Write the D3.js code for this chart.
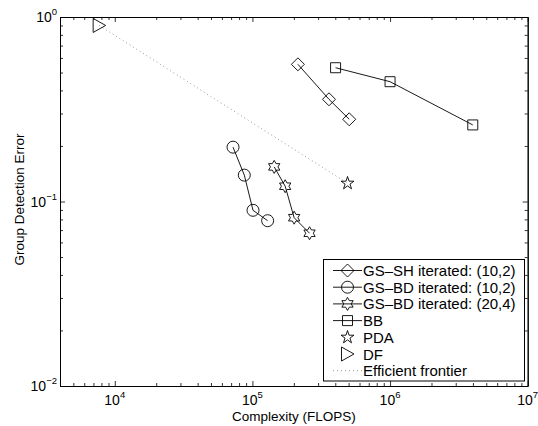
<!DOCTYPE html>
<html>
<head>
<meta charset="utf-8">
<script src="https://cdn.jsdelivr.net/npm/d3@7"></script>
<style>
  html, body { margin: 0; padding: 0; background: #fff; }
  svg { display: block; font-family: "Liberation Sans", Arial, sans-serif; }
</style>
</head>
<body>
<div id="chart"></div>
<script>
// series (complexity in FLOPS, group detection error)
const gsshX = [2.14e5, 3.6e5, 5.05e5];
const gsshY = [0.554, 0.358, 0.279];
const gsbd10X = [7.23e4, 8.73e4, 1.01e5, 1.29e5];
const gsbd10Y = [0.197, 0.139, 0.0896, 0.0787];
const gsbd20X = [1.44e5, 1.73e5, 2.01e5, 2.6e5];
const gsbd20Y = [0.154, 0.121, 0.0817, 0.0673];
const bbX = [4.02e5, 1e6, 3.99e6];
const bbY = [0.531, 0.446, 0.26];
const pdaX = [4.91e5];
const pdaY = [0.1255];
const dfX = [7.7e3];
const dfY = [0.90];
const frontierX = [7.7e3, 4.91e5];
const frontierY = [0.90, 0.1255];

const xTickExp = [4, 5, 6, 7];
const yTickExp = [-2, -1, 0];
const legendLabels = ['GS\u2013SH iterated: (10,2)', 'GS\u2013BD iterated: (10,2)', 'GS\u2013BD iterated: (20,4)', 'BB', 'PDA', 'DF', 'Efficient frontier'];

const width = 538, height = 426;
const margin = { top: 17, right: 10.3, bottom: 40, left: 60 };

const svg = d3.select('#chart').append('svg').attr('width', width).attr('height', height);

const x = d3.scaleLog().domain([4000, 1e7]).range([margin.left, width - margin.right]);
const y = d3.scaleLog().domain([0.01, 1]).range([height - margin.bottom, margin.top]);

// major + minor tick values
const xMinor = [], yMinor = [];
for (let e = 3; e < 7; e++) for (let m = 2; m <= 9; m++) { const v = m * Math.pow(10, e); if (v > 4000 - 1 && v < 1e7) xMinor.push(v); }
for (let e = -2; e < 0; e++) for (let m = 2; m <= 9; m++) yMinor.push(m * Math.pow(10, e));
const xMajor = xTickExp.map(e => Math.pow(10, e));
const yMajor = yTickExp.map(e => Math.pow(10, e));

const x0 = margin.left, x1 = width - margin.right, y0 = height - margin.bottom, y1 = margin.top;

function axisG(axis, tx, ty) {
  const g = svg.append('g').attr('transform', `translate(${tx},${ty})`).call(axis);
  g.selectAll('text').remove();
  g.select('.domain').attr('stroke', '#000').attr('stroke-width', 1);
  g.selectAll('.tick line').attr('stroke', '#000').attr('stroke-width', 0.8);
  return g;
}
// major ticks
axisG(d3.axisBottom(x).tickValues(xMajor).tickSize(-5).tickSizeOuter(0), 0, y0);
axisG(d3.axisTop(x).tickValues(xMajor).tickSize(-5).tickSizeOuter(0), 0, y1);
axisG(d3.axisLeft(y).tickValues(yMajor).tickSize(-5).tickSizeOuter(0), x0, 0);
axisG(d3.axisRight(y).tickValues(yMajor).tickSize(-5).tickSizeOuter(0), x1, 0);
// minor ticks
axisG(d3.axisBottom(x).tickValues(xMinor).tickSize(-3).tickSizeOuter(0), 0, y0);
axisG(d3.axisTop(x).tickValues(xMinor).tickSize(-3).tickSizeOuter(0), 0, y1);
axisG(d3.axisLeft(y).tickValues(yMinor).tickSize(-3).tickSizeOuter(0), x0, 0);
axisG(d3.axisRight(y).tickValues(yMinor).tickSize(-3).tickSizeOuter(0), x1, 0);

// tick labels with superscripts
const fs = 13.5;
xTickExp.forEach(e => {
  const t = svg.append('text').attr('x', x(Math.pow(10, e))).attr('y', y0 + 19)
    .attr('text-anchor', 'middle').attr('font-size', 14);
  t.append('tspan').text('10');
  t.append('tspan').attr('dy', -7).attr('font-size', 9.5).text(e);
});
yTickExp.forEach(e => {
  const t = svg.append('text').attr('x', x0 - 3).attr('y', y(Math.pow(10, e)) + 5)
    .attr('text-anchor', 'end').attr('font-size', 14);
  t.append('tspan').text('10');
  t.append('tspan').attr('dy', -7).attr('font-size', 9.5).text(e < 0 ? '\u2212' + (-e) : e);
});

svg.append('text').attr('x', (x0 + x1) / 2).attr('y', 421).attr('text-anchor', 'middle')
  .attr('font-size', fs).text('Complexity (FLOPS)');
svg.append('text').attr('transform', `translate(24,${(y0 + y1) / 2 - 2}) rotate(-90)`)
  .attr('text-anchor', 'middle').attr('font-size', fs).text('Group Detection Error');

// marker shapes
function starPath(n, R, r) {
  const pts = [];
  for (let i = 0; i < 2 * n; i++) {
    const a = -Math.PI / 2 + i * Math.PI / n;
    const rad = i % 2 === 0 ? R : r;
    pts.push([rad * Math.cos(a), rad * Math.sin(a)]);
  }
  return 'M' + pts.map(p => p.join(',')).join('L') + 'Z';
}
const markers = {
  diamond: 'M0,-6.5L6.5,0L0,6.5L-6.5,0Z',
  circle: d3.arc()({ innerRadius: 0, outerRadius: 6, startAngle: 0, endAngle: 2 * Math.PI }),
  hexagram: starPath(6, 6.5, 6.5 / Math.sqrt(3)),
  square: 'M-5,-5H5V5H-5Z',
  pentagram: starPath(5, 6.8, 6.8 * 0.382),
  triangle: 'M-6,-7L6.5,0L-6,7Z'
};

const series = [
  { xs: gsshX, ys: gsshY, marker: 'diamond', line: true },
  { xs: gsbd10X, ys: gsbd10Y, marker: 'circle', line: true },
  { xs: gsbd20X, ys: gsbd20Y, marker: 'hexagram', line: true },
  { xs: bbX, ys: bbY, marker: 'square', line: true },
  { xs: pdaX, ys: pdaY, marker: 'pentagram', line: false },
  { xs: dfX, ys: dfY, marker: 'triangle', line: false }
];

const line = d3.line().x(d => x(d[0])).y(d => y(d[1]));
const plot = svg.append('g');

// efficient frontier
plot.append('path').datum(d3.zip(frontierX, frontierY)).attr('d', line)
  .attr('fill', 'none').attr('stroke', '#999').attr('stroke-width', 1).attr('stroke-dasharray', '1,3');

series.forEach(s => {
  const pts = d3.zip(s.xs, s.ys);
  if (s.line) plot.append('path').datum(pts).attr('d', line)
    .attr('fill', 'none').attr('stroke', '#000').attr('stroke-width', 0.9);
  plot.selectAll(null).data(pts).enter().append('path')
    .attr('transform', d => `translate(${x(d[0])},${y(d[1])})`)
    .attr('d', markers[s.marker]).attr('fill', 'none').attr('stroke', '#000').attr('stroke-width', 0.9);
});

// legend
const lg = svg.append('g');
lg.append('rect').attr('x', 323.5).attr('y', 259.5).attr('width', 201).attr('height', 121.5)
  .attr('fill', '#fff').attr('stroke', '#000').attr('stroke-width', 1);
legendLabels.forEach((lab, i) => {
  const cy = 270.5 + i * 16.7;
  if (i < 4) lg.append('line').attr('x1', 333).attr('x2', 362).attr('y1', cy).attr('y2', cy)
    .attr('stroke', '#000').attr('stroke-width', 0.9);
  if (i < 6) lg.append('path').attr('transform', `translate(347.5,${cy})`).attr('d', markers[series[i].marker])
    .attr('fill', 'none').attr('stroke', '#000').attr('stroke-width', 0.9);
  else lg.append('line').attr('x1', 333).attr('x2', 362).attr('y1', cy).attr('y2', cy)
    .attr('stroke', '#999').attr('stroke-width', 1).attr('stroke-dasharray', '1,3');
  lg.append('text').attr('x', 363).attr('y', cy + 5.5).attr('font-size', 15).text(lab);
});
</script>
</body>
</html>
